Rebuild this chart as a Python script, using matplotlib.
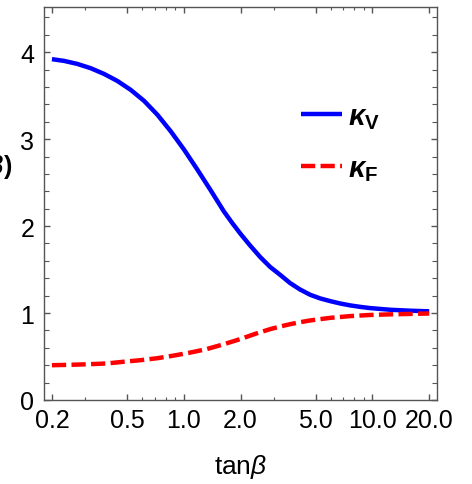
import matplotlib
matplotlib.use("Agg")
import matplotlib.pyplot as plt
from matplotlib.ticker import FixedLocator, FixedFormatter, NullFormatter

plt.rcParams['font.family'] = ['Liberation Sans', 'DejaVu Sans']
plt.rcParams['mathtext.fontset'] = 'custom'
plt.rcParams['mathtext.rm'] = 'Liberation Sans'
plt.rcParams['mathtext.it'] = 'Liberation Sans:italic'
plt.rcParams['mathtext.bf'] = 'Liberation Sans:bold'
plt.rcParams['mathtext.bfit'] = 'Liberation Sans:italic:bold'

# Data
tanb_V = [0.2, 0.232, 0.272, 0.321, 0.378, 0.444, 0.523, 0.616, 0.725, 0.853,
          1.003, 1.18, 1.39, 1.63, 1.8, 2.0, 2.24, 2.54, 2.87, 3.24, 3.66, 4.14,
          4.68, 5.29, 5.98, 6.75, 7.63, 8.62, 9.74, 12.4, 15.9, 20.0]
kappa_V = [3.92, 3.90, 3.866, 3.816, 3.75, 3.67, 3.567, 3.44, 3.28, 3.09,
           2.88, 2.65, 2.41, 2.17, 2.04, 1.91, 1.78, 1.645, 1.53, 1.44, 1.345, 1.27,
           1.21, 1.168, 1.137, 1.11, 1.088, 1.071, 1.057, 1.038, 1.027, 1.02]

tanb_F = [0.2, 0.25, 0.3, 0.39, 0.48, 0.59, 0.72, 0.88, 1.08, 1.32, 1.62, 1.99,
          2.4, 2.87, 3.24, 3.66, 4.14, 4.68, 5.98, 7.63, 9.74, 12.4, 15.9, 20.0]
kappa_F = [0.40, 0.405, 0.41, 0.42, 0.44, 0.458, 0.48, 0.51, 0.545, 0.585, 0.64,
           0.70, 0.762, 0.815, 0.845, 0.872, 0.895, 0.915, 0.945, 0.965, 0.978,
           0.985, 0.99, 0.995]

x_major = [0.2, 0.5, 1.0, 2.0, 5.0, 10.0, 20.0]
x_labels = ['0.2', '0.5', '1.0', '2.0', '5.0', '10.0', '20.0']
x_minor = [0.3, 0.6, 0.7, 0.8, 0.9, 3, 6, 7, 8, 9]
y_major = [0, 1, 2, 3, 4]

fig = plt.figure(figsize=(4.72, 4.85), dpi=100)
ax = fig.add_axes([44/472, 1-401/485, 393/472, 393/485])

ax.plot(tanb_V, kappa_V, color=(0, 0, 1), lw=3.2, solid_capstyle='butt',
        solid_joinstyle='round', label=r'$\boldsymbol{\kappa}_{\mathbf{V}}$')
ax.plot(tanb_F, kappa_F, color=(1, 0, 0), lw=3.2, linestyle=(0, (3.2, 1.2)),
        dash_capstyle='butt', label=r'$\boldsymbol{\kappa}_{\mathbf{F}}$')

ax.set_xscale('log')
ax.set_xlim(0.1815, 22.0)
ax.set_ylim(0, 4.52)

ax.xaxis.set_major_locator(FixedLocator(x_major))
ax.xaxis.set_major_formatter(FixedFormatter(x_labels))
ax.xaxis.set_minor_locator(FixedLocator(x_minor))
ax.xaxis.set_minor_formatter(NullFormatter())
ax.yaxis.set_major_locator(FixedLocator(y_major))
ax.yaxis.set_minor_locator(FixedLocator([i * 0.2 for i in range(23) if i % 5 != 0]))

for s in ax.spines.values():
    s.set_color('#555555')
    s.set_linewidth(1.0)
ax.tick_params(which='both', direction='in', top=True, right=True, color='#555555',
               labelsize=18, labelcolor='black')
ax.tick_params(axis='x', which='major', length=4.5, width=1.0, pad=6)
ax.tick_params(axis='x', which='minor', length=2.5, width=0.8)
ax.tick_params(axis='y', which='major', length=4.5, width=1.0, pad=7)
ax.tick_params(axis='y', which='minor', length=3.5, width=0.8)

ax.set_xlabel(r'tan$\beta$', fontsize=19, labelpad=14)
fig.text(13/472, 1-167/485, r'$\boldsymbol{\kappa}$(tan$\boldsymbol{\beta}$)',
         ha='right', va='center', fontsize=18, fontweight='bold')

leg = ax.legend(loc='center left', bbox_to_anchor=(0.654, 0.655), frameon=False,
                fontsize=21, handlelength=1.4, handletextpad=0.2, labelspacing=0.8,
                borderpad=0, borderaxespad=0)

fig.savefig('out.png', dpi=100)
